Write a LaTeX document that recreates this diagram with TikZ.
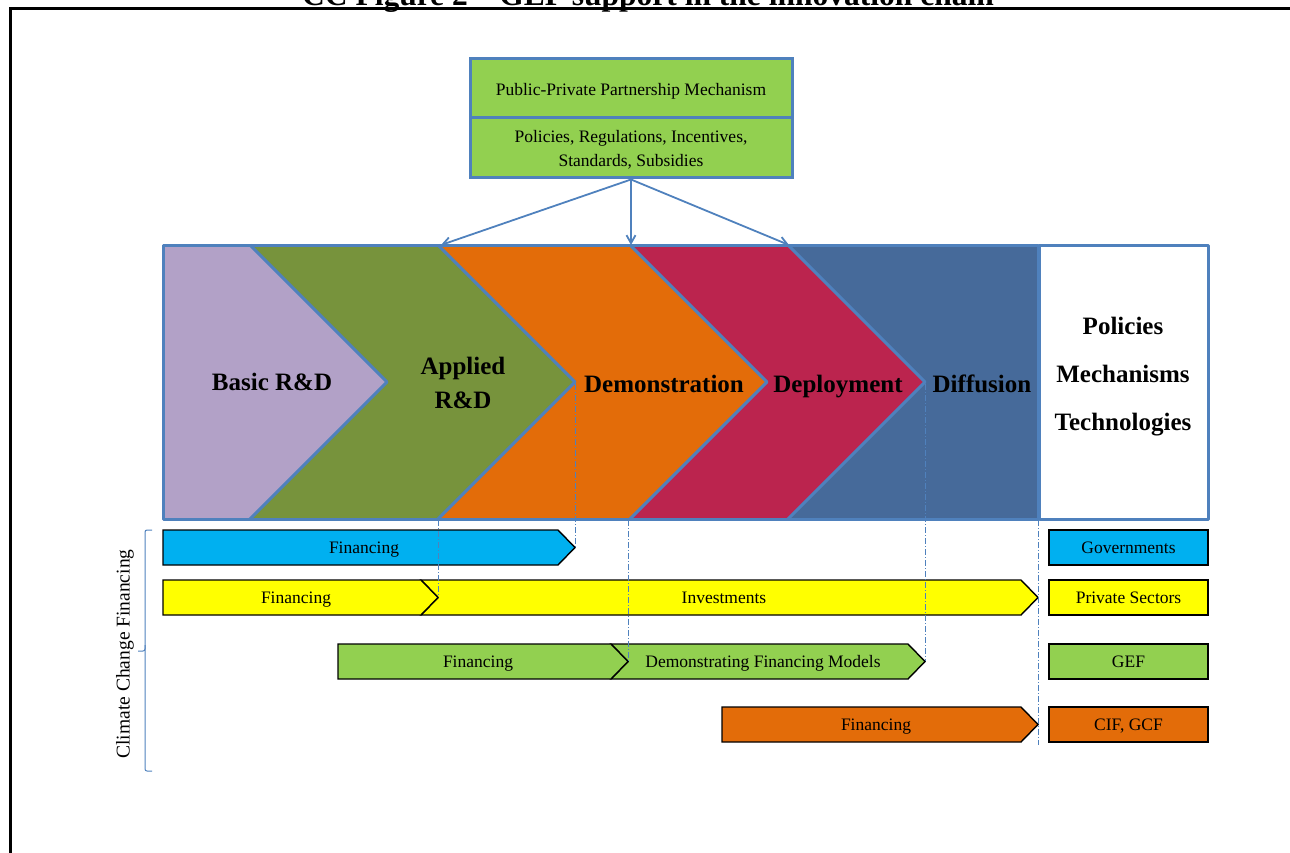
\documentclass[tikz,border=0pt]{standalone}
\usepackage{fontspec}
\setmainfont{Liberation Serif}
\usetikzlibrary{arrows.meta}

\definecolor{edgeblue}{RGB}{79,129,189}
\definecolor{leafgreen}{RGB}{146,208,80}
\definecolor{lavender}{RGB}{178,161,199}
\definecolor{olive}{RGB}{119,147,60}
\definecolor{burnt}{RGB}{227,108,9}
\definecolor{crimson}{RGB}{187,36,78}
\definecolor{steel}{RGB}{70,106,154}
\definecolor{skyblue}{RGB}{0,176,240}
\definecolor{lemon}{RGB}{255,255,0}

\begin{document}
\begin{tikzpicture}[x=1pt,y=-1pt,
  bandedge/.style={draw=edgeblue,line width=3pt,line join=round},
  stagelabel/.style={font=\fontsize{25}{34}\selectfont\bfseries,align=center,inner sep=0pt},
  barshape/.style={draw=black,line width=1.4pt,line join=miter},
  barlabel/.style={font=\fontsize{17.5}{21}\selectfont,inner sep=0pt,anchor=base},
  sourcebox/.style={draw=black,line width=1.4pt,minimum width=159pt,minimum height=35pt,
    inner sep=0pt},
  sourcelabel/.style={font=\fontsize{17.5}{21}\selectfont,inner sep=0pt,anchor=base},
  pppbox/.style={draw=edgeblue,line width=3pt,fill=leafgreen,minimum width=322pt,inner sep=0pt},
  ppplabel/.style={align=center,inner sep=0pt,font=\fontsize{17.5}{24}\selectfont},
  guide/.style={draw=edgeblue,line width=0.9pt,dash pattern=on 6pt off 2pt on 1pt off 2pt},
  feed/.style={draw=edgeblue,line width=1.8pt,-{Straight Barb[length=8pt,width=9pt]}}
]
\useasboundingbox (0,0) rectangle (1290,853);

% page frame and caption
\node[font=\fontsize{31.5}{36}\selectfont\bfseries,anchor=base,inner sep=0pt] (title)
  at (648,5.5) {CC Figure 2 – GEF support in the innovation chain};
\draw[line width=3pt] (10,853) -- (10,9) -- (1290,9);

% public-private partnership box
\node[pppbox,minimum height=59pt] (ppp) at (631,88.5) {};
\node[pppbox,minimum height=60pt] (pol) at (631,148) {};
\node[ppplabel,anchor=base] (ppptext) at (631,96) {Public-Private Partnership Mechanism};
\node[ppplabel] (poltext) at (631,149.5) {Policies, Regulations, Incentives,\\Standards, Subsidies};

% stages of the innovation chain
\fill[steel] (163,245) rectangle (1038,519);
\fill[crimson] (630,245) -- (788,245) -- (925,382) -- (788,519) -- (630,519) -- (767,382) -- cycle;
\fill[burnt] (438,245) -- (630,245) -- (767,382) -- (630,519) -- (438,519) -- (575,382) -- cycle;
\fill[olive] (250,245) -- (438,245) -- (575,382) -- (438,519) -- (250,519) -- (387,382) -- cycle;
\fill[lavender] (163,245) -- (250,245) -- (387,382) -- (250,519) -- (163,519) -- cycle;
\draw[bandedge] (250,245) -- (387,382) -- (250,519);
\draw[bandedge] (438,245) -- (575,382) -- (438,519);
\draw[bandedge] (630,245) -- (767,382) -- (630,519);
\draw[bandedge] (788,245) -- (925,382) -- (788,519);
\draw[bandedge] (163,245) rectangle (1038,519);
\draw[bandedge,fill=white] (1039,245) rectangle (1208,519);

\coordinate (t1) at (441,245);
\coordinate (t2) at (631,245);
\coordinate (t3) at (789,245);

\node[stagelabel,anchor=base] (basic) at (272,390) {Basic R\&D};
\node[stagelabel] (applied) at (463,383) {Applied\\R\&D};
\node[stagelabel,anchor=base] (demo) at (664,392) {Demonstration};
\node[stagelabel,anchor=base] (deploy) at (838,392) {Deployment};
\node[stagelabel,anchor=base] (diffuse) at (982,392) {Diffusion};
\node[stagelabel,font=\fontsize{25}{48}\selectfont\bfseries] (pmt) at (1123,377)
  {Policies\\Mechanisms\\Technologies};

% policy influence on the chain
\draw[feed] (pol.south) -- (t1);
\draw[feed] (pol.south) -- (t2);
\draw[feed] (pol.south) -- (t3);

% financing bars
\draw[barshape,fill=skyblue] (163,530) -- (558,530) -- (575,547.5) -- (558,565) -- (163,565) -- cycle;
\draw[barshape,fill=lemon] (421,580) -- (1021,580) -- (1038,597.5) -- (1021,615) -- (421,615) -- (438,597.5) -- cycle;
\draw[barshape,fill=lemon] (163,580) -- (421,580) -- (438,597.5) -- (421,615) -- (163,615) -- cycle;
\draw[barshape,fill=leafgreen] (611,644) -- (908,644) -- (925,661.5) -- (908,679) -- (611,679) -- (628,661.5) -- cycle;
\draw[barshape,fill=leafgreen] (338,644) -- (611,644) -- (628,661.5) -- (611,679) -- (338,679) -- cycle;
\draw[barshape,fill=burnt] (722,707) -- (1021,707) -- (1038,724.5) -- (1021,742) -- (722,742) -- cycle;

\node[barlabel] (fin1) at (364,553.5) {Financing};
\node[barlabel] (fin2) at (296,603.5) {Financing};
\node[barlabel] (inv) at (724,603.5) {Investments};
\node[barlabel] (fin3) at (478,667.5) {Financing};
\node[barlabel] (dfm) at (763,667.5) {Demonstrating Financing Models};
\node[barlabel] (fin4) at (876,730.5) {Financing};

% sources of finance
\node[sourcebox,fill=skyblue] (gov) at (1128.5,547.5) {};
\node[sourcebox,fill=lemon] (priv) at (1128.5,597.5) {};
\node[sourcebox,fill=leafgreen] (gef) at (1128.5,661.5) {};
\node[sourcebox,fill=burnt] (cif) at (1128.5,724.5) {};
\node[sourcelabel] (govtext) at (1128.5,553.5) {Governments};
\node[sourcelabel] (privtext) at (1128.5,603.5) {Private Sectors};
\node[sourcelabel] (geftext) at (1128.5,667.5) {GEF};
\node[sourcelabel] (ciftext) at (1128.5,730.5) {CIF, GCF};

% stage guides
\draw[guide] (575,384) -- (575,547);
\draw[guide] (438,520) -- (438,597);
\draw[guide] (628,520) -- (628,661);
\draw[guide] (925,384) -- (925,661);
\draw[guide] (1038,520) -- (1038,745);

% bracket for climate change financing
\draw[edgeblue,line width=1pt,rounded corners=2pt] (152,530) -- (145,530) -- (145,651) -- (138,651);
\draw[edgeblue,line width=1pt,rounded corners=2pt] (145,645) -- (145,771) -- (152,771);
\node[font=\fontsize{19.5}{22}\selectfont,rotate=90,inner sep=0pt] (ccf) at (125,654) {Climate Change Financing};
\end{tikzpicture}
\end{document}
